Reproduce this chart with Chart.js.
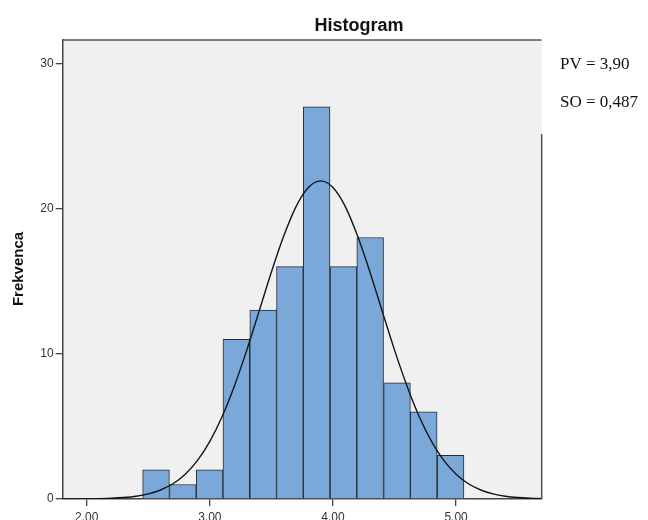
<!DOCTYPE html>
<html>
<head>
<meta charset="utf-8">
<title>Histogram</title>
<script src="https://cdn.jsdelivr.net/npm/chart.js@4"></script>
<style>
  html, body { margin: 0; padding: 0; background: #fff; }
  canvas { display: block; }
</style>
</head>
<body>
<canvas id="histChart" width="648" height="520"></canvas>
<script>
// histogram bins (centres) and frequencies
const binCenters = [2.563, 2.781, 2.998, 3.215, 3.433, 3.650, 3.867, 4.085, 4.302, 4.520, 4.737, 4.955];
const frequencies = [2, 1, 2, 11, 13, 16, 27, 16, 18, 8, 6, 3];

// normal curve
const curveX = [1.8, 1.9, 2.0, 2.1, 2.2, 2.3, 2.4, 2.5, 2.6, 2.7, 2.8, 2.9, 3.0, 3.1, 3.2, 3.3, 3.4, 3.5, 3.6, 3.7, 3.8, 3.9,
  4.0, 4.1, 4.2, 4.3, 4.4, 4.5, 4.6, 4.7, 4.8, 4.9, 5.0, 5.1, 5.2, 5.3, 5.4, 5.5, 5.6, 5.7];
const curveY = [0.002, 0.005, 0.011, 0.024, 0.049, 0.099, 0.19, 0.35, 0.62, 1.05, 1.71, 2.66, 3.97, 5.68, 7.80, 10.25, 12.93, 15.63, 18.1, 20.13, 21.44, 21.9,
  21.44, 20.13, 18.1, 15.63, 12.93, 10.25, 7.80, 5.68, 3.97, 2.66, 1.71, 1.05, 0.62, 0.35, 0.19, 0.099, 0.049, 0.024];

const xTicks = [2, 3, 4, 5];
const xTickLabels = ['2.00', '3.00', '4.00', '5.00'];
const yTicks = [0, 10, 20, 30];
const yTickLabels = ['0', '10', '20', '30'];

const chartTitle = 'Histogram';
const yAxisTitle = 'Frekvenca';
const statLines = ['PV = 3,90', 'SO = 0,487'];

const FONT = "'Liberation Sans', Arial, sans-serif";

const frame = {
  id: 'frame',
  beforeDraw(chart) {
    const { ctx, chartArea: a } = chart;
    ctx.save();
    ctx.fillStyle = '#ffffff';
    ctx.fillRect(0, 0, chart.width, chart.height);
    ctx.fillStyle = '#f0f0f0';
    ctx.fillRect(a.left, a.top, a.right - a.left, a.bottom - a.top);
    ctx.restore();
  },
  afterDraw(chart) {
    const { ctx, chartArea: a } = chart;
    ctx.save();
    ctx.strokeStyle = '#555';
    ctx.lineWidth = 1.5;
    ctx.beginPath();
    ctx.moveTo(a.left, a.top);
    ctx.lineTo(a.right, a.top);
    ctx.moveTo(a.right, 134);
    ctx.lineTo(a.right, a.bottom);
    ctx.stroke();

    ctx.fillStyle = '#111';
    ctx.font = 'bold 18px ' + FONT;
    ctx.textAlign = 'center';
    ctx.textBaseline = 'alphabetic';
    ctx.fillText(chartTitle, 359, 31);

    ctx.font = "17px 'Liberation Serif', 'Times New Roman', serif";
    ctx.textAlign = 'left';
    ctx.fillText(statLines[0], 560, 69);
    ctx.fillText(statLines[1], 560, 107);

    ctx.translate(19, 269);
    ctx.rotate(-Math.PI / 2);
    ctx.font = 'bold 15px ' + FONT;
    ctx.textAlign = 'center';
    ctx.textBaseline = 'middle';
    ctx.fillText(yAxisTitle, 0, 0);
    ctx.restore();
  }
};

new Chart(document.getElementById('histChart'), {
  type: 'bar',
  data: {
    datasets: [
      {
        type: 'line',
        data: curveX.map((x, i) => ({ x: x, y: curveY[i] })),
        borderColor: '#151515',
        borderWidth: 1.4,
        pointRadius: 0,
        fill: false,
        cubicInterpolationMode: 'monotone',
        order: 0
      },
      {
        type: 'bar',
        data: binCenters.map((x, i) => ({ x: x, y: frequencies[i] })),
        backgroundColor: '#7aa8d8',
        borderColor: '#2a2a2a',
        borderWidth: 1,
        borderSkipped: 'start',
        barPercentage: 1,
        categoryPercentage: 1,
        order: 1
      }
    ]
  },
  options: {
    responsive: false,
    animation: false,
    layout: { padding: { top: 40, right: 106.3, bottom: 0, left: 0 } },
    plugins: {
      legend: { display: false },
      tooltip: { enabled: false },
      title: { display: false }
    },
    scales: {
      x: {
        type: 'linear',
        min: 1.805,
        max: 5.695,
        offset: false,
        afterBuildTicks: (scale) => { scale.ticks = xTicks.map((v) => ({ value: v })); },
        afterFit: (scale) => { scale.height = 21; },
        ticks: {
          color: '#333',
          font: { family: FONT, size: 12 },
          padding: 4,
          maxRotation: 0,
          autoSkip: false,
          callback: (v) => xTickLabels[xTicks.indexOf(v)]
        },
        grid: { offset: false, drawOnChartArea: false, drawTicks: true, tickLength: 7, color: '#444', lineWidth: 1.3 },
        border: { display: true, color: '#444', width: 1.5 }
      },
      y: {
        min: 0,
        max: 31.6,
        afterBuildTicks: (scale) => { scale.ticks = yTicks.map((v) => ({ value: v })); },
        afterFit: (scale) => { scale.width = 62.7; },
        ticks: {
          color: '#333',
          font: { family: FONT, size: 12 },
          padding: 2,
          callback: (v) => yTickLabels[yTicks.indexOf(v)]
        },
        grid: { drawOnChartArea: false, drawTicks: true, tickLength: 7, color: '#444', lineWidth: 1.3 },
        border: { display: true, color: '#444', width: 1.5 }
      }
    }
  },
  plugins: [frame]
});
</script>
</body>
</html>
